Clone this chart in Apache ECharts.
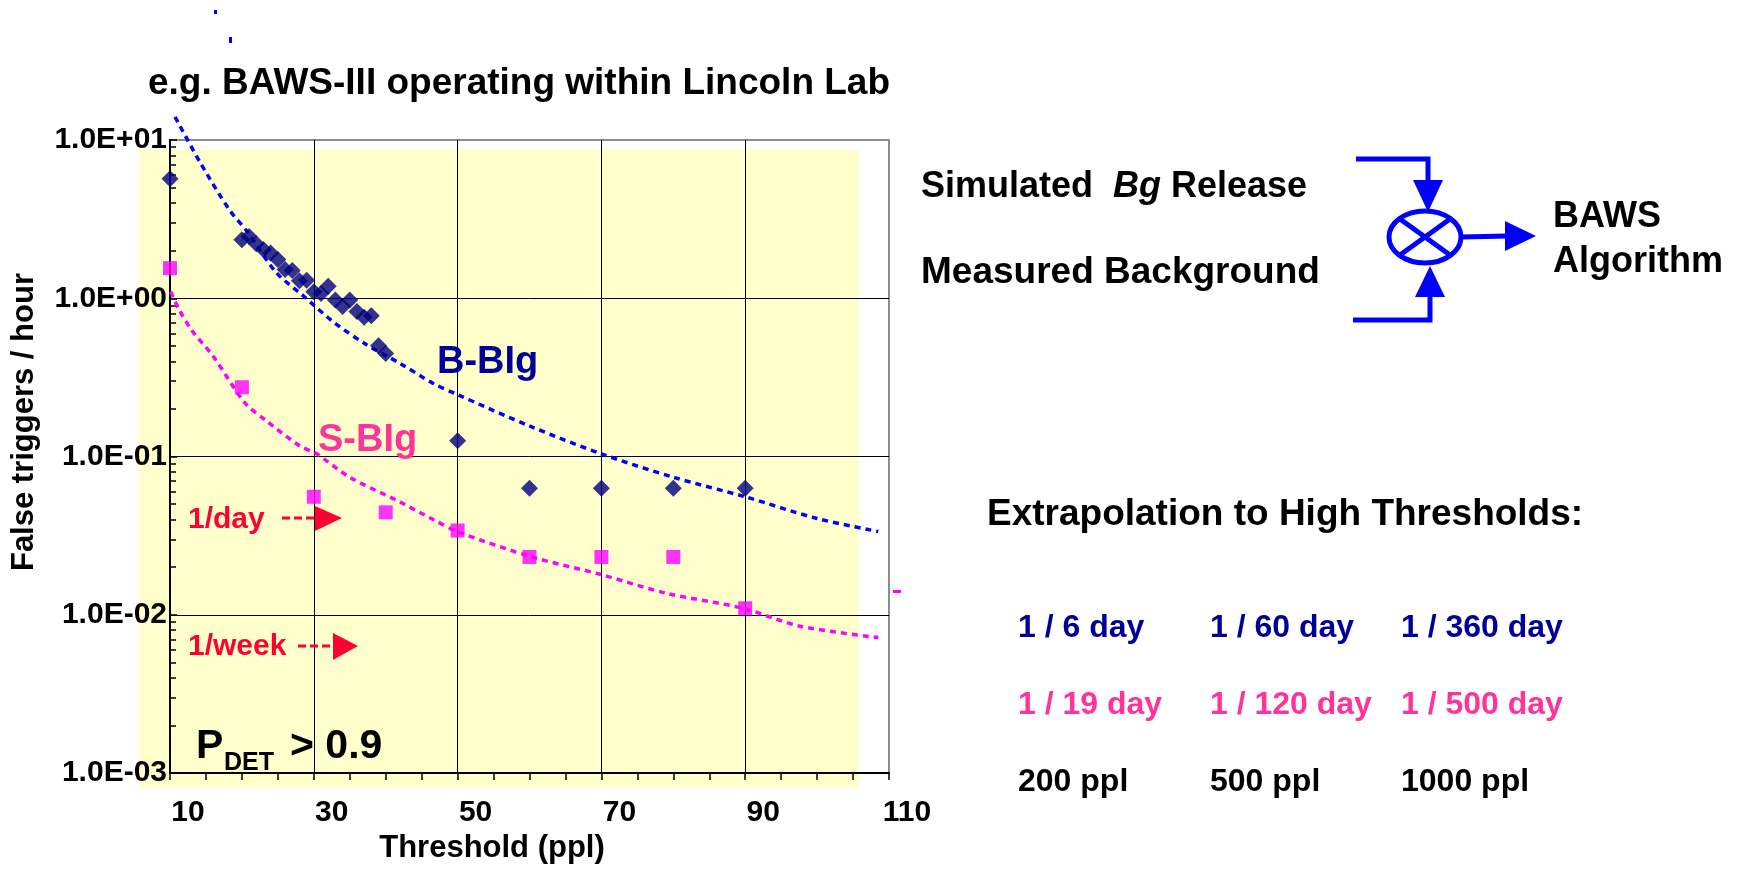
<!DOCTYPE html>
<html>
<head>
<meta charset="utf-8">
<title>BAWS-III false triggers</title>
<script src="https://cdn.jsdelivr.net/npm/echarts@6/dist/echarts.min.js"></script>
<style>
  html, body { margin: 0; padding: 0; background: #fff; }
  #chart { width: 1743px; height: 869px; }
</style>
</head>
<body>
<div id="chart"></div>
<script>
// axis tick labels
var xTickLabels = ['10', '30', '50', '70', '90', '110'];
var yTickLabels = ['1.0E-03', '1.0E-02', '1.0E-01', '1.0E+00', '1.0E+01'];

// B-BIg measured false trigger rate (navy diamonds)
var bThreshold = [10, 20, 21, 22, 23, 24, 25, 26, 27, 28, 29, 30, 31, 32, 33, 34, 35, 36, 37, 38, 39, 40, 50, 60, 70, 80, 90];
var bRate = [5.7, 2.34, 2.46, 2.21, 2.03, 1.93, 1.76, 1.52, 1.50, 1.29, 1.30, 1.10, 1.07, 1.19, 0.976, 0.886, 0.976, 0.824, 0.760, 0.775, 0.502, 0.448, 0.126, 0.063, 0.063, 0.063, 0.063];

// S-BIg measured false trigger rate (magenta squares)
var sThreshold = [10, 20, 30, 40, 50, 60, 70, 80, 90];
var sRate = [1.55, 0.274, 0.0557, 0.0444, 0.0341, 0.0232, 0.0232, 0.0232, 0.011];

// trend lines
var bFitX = [10.7, 14.2, 18.3, 20.7, 24.8, 28.5, 32.7, 37.3, 41.9, 46.6, 50, 60, 70, 80, 90, 100, 108.5];
var bFitY = [14.0, 7.2, 3.6, 2.65, 1.45, 1.04, 0.71, 0.51, 0.39, 0.29, 0.246, 0.156, 0.104, 0.074, 0.0557, 0.0406, 0.0336];
var sFitX = [10.1, 11.2, 13, 16, 20.4, 23.4, 28, 30.4, 35, 42, 46.6, 50, 60.5, 69.7, 79, 89.7, 97.5, 108.5];
var sFitY = [1.1, 0.86, 0.63, 0.43, 0.219, 0.168, 0.117, 0.104, 0.074, 0.0516, 0.04, 0.0335, 0.0231, 0.0181, 0.0137, 0.011, 0.0085, 0.00718];

var FONT = '"Liberation Sans", Arial, sans-serif';

function pairs(xs, ys) {
  return xs.map(function (x, i) { return [x, ys[i]]; });
}

// minor tick positions on the log axis (2..9 in each decade), in log10 space
var minorYTicks = [];
for (var d = -3; d < 1; d++) {
  for (var m = 2; m <= 9; m++) minorYTicks.push(d + Math.log10(m));
}

function txt(x, y, s, size, color, extra) {
  var st = {
    text: s, fill: color, fontFamily: FONT, fontSize: size, fontWeight: 'bold',
    align: 'left', verticalAlign: 'middle'
  };
  if (extra) for (var k in extra) st[k] = extra[k];
  return { type: 'text', x: x, y: y, style: st, z: 20 };
}

var chart = echarts.init(document.getElementById('chart'));

var graphics = [
  // pale yellow plot backdrop
  { type: 'rect', shape: { x: 139, y: 150, width: 720, height: 638 }, style: { fill: '#FFFFCC' }, z: -10 },

  // stray specks left over in the slide
  { type: 'rect', shape: { x: 214, y: 10, width: 3, height: 4 }, style: { fill: '#0000FF' }, z: 20 },
  { type: 'rect', shape: { x: 229, y: 37, width: 3, height: 6 }, style: { fill: '#0000FF' }, z: 20 },
  { type: 'rect', shape: { x: 893, y: 590, width: 8, height: 3 }, style: { fill: '#FF00FF' }, z: 20 },

  // title
  txt(148, 84, 'e.g. BAWS-III operating within Lincoln Lab', 37, '#000'),

  // in-plot labels
  txt(437, 363, 'B-BIg', 38, '#000099'),
  txt(318, 441, 'S-BIg', 38, '#FF3399'),
  txt(188, 520, '1/day', 30, '#FF0033'),
  { type: 'line', shape: { x1: 282, y1: 518, x2: 316, y2: 518 }, style: { stroke: '#FF0033', lineWidth: 3, lineDash: [8, 4] }, z: 20 },
  { type: 'polygon', shape: { points: [[315, 506], [315, 531], [342, 518]] }, style: { fill: '#FF0033' }, z: 20 },
  txt(188, 647, '1/week', 30, '#FF0033'),
  { type: 'line', shape: { x1: 298, y1: 646, x2: 334, y2: 646 }, style: { stroke: '#FF0033', lineWidth: 3, lineDash: [8, 4] }, z: 20 },
  { type: 'polygon', shape: { points: [[333, 633], [333, 660], [358, 646]] }, style: { fill: '#FF0033' }, z: 20 },
  txt(196, 747, 'P', 41, '#000'),
  txt(224, 763, 'DET', 25, '#000'),
  txt(290, 747, '> 0.9', 41, '#000'),

  // block diagram
  txt(921, 187, '{a|Simulated  }{i|Bg}{a| Release}', 36, '#000', {
    rich: {
      a: { fontFamily: FONT, fontSize: 36, fontWeight: 'bold', fill: '#000' },
      i: { fontFamily: FONT, fontSize: 36, fontWeight: 'bold', fontStyle: 'italic', fill: '#000' }
    }
  }),
  txt(921, 273, 'Measured Background', 37, '#000'),
  { type: 'polyline', shape: { points: [[1356, 159], [1428, 159], [1428, 184]] }, style: { stroke: '#0000FF', lineWidth: 5, fill: null }, z: 20 },
  { type: 'polygon', shape: { points: [[1413, 180], [1443, 180], [1428, 212]] }, style: { fill: '#0000FF' }, z: 20 },
  { type: 'ellipse', shape: { cx: 1425, cy: 237, rx: 36, ry: 26 }, style: { stroke: '#0000FF', lineWidth: 5, fill: null }, z: 20 },
  { type: 'line', shape: { x1: 1400, y1: 219, x2: 1450, y2: 255 }, style: { stroke: '#0000FF', lineWidth: 5 }, z: 20 },
  { type: 'line', shape: { x1: 1400, y1: 255, x2: 1450, y2: 219 }, style: { stroke: '#0000FF', lineWidth: 5 }, z: 20 },
  { type: 'polyline', shape: { points: [[1353, 320], [1430, 320], [1430, 294]] }, style: { stroke: '#0000FF', lineWidth: 5, fill: null }, z: 20 },
  { type: 'polygon', shape: { points: [[1415, 297], [1445, 297], [1430, 266]] }, style: { fill: '#0000FF' }, z: 20 },
  { type: 'line', shape: { x1: 1461, y1: 237, x2: 1508, y2: 236 }, style: { stroke: '#0000FF', lineWidth: 5 }, z: 20 },
  { type: 'polygon', shape: { points: [[1505, 221], [1505, 251], [1536, 236]] }, style: { fill: '#0000FF' }, z: 20 },
  txt(1553, 217, 'BAWS', 36, '#000'),
  txt(1553, 262, 'Algorithm', 36, '#000'),

  // extrapolation table
  txt(987, 515, 'Extrapolation to High Thresholds:', 37, '#000'),
  txt(1018, 628, '1 / 6 day', 32, '#000099'),
  txt(1210, 628, '1 / 60 day', 32, '#000099'),
  txt(1401, 628, '1 / 360 day', 32, '#000099'),
  txt(1018, 705, '1 / 19 day', 32, '#FF3399'),
  txt(1210, 705, '1 / 120 day', 32, '#FF3399'),
  txt(1401, 705, '1 / 500 day', 32, '#FF3399'),
  txt(1018, 782, '200 ppl', 32, '#000'),
  txt(1210, 782, '500 ppl', 32, '#000'),
  txt(1401, 782, '1000 ppl', 32, '#000')
];

var option = {
  animation: false,
  backgroundColor: '#fff',
  grid: {
    left: 170, top: 140, right: 854, bottom: 91,
    show: true, borderColor: '#8c8c8c', borderWidth: 2, backgroundColor: 'transparent'
  },
  xAxis: {
    type: 'value', min: 10, max: 110, interval: 20,
    name: 'Threshold (ppl)', nameLocation: 'middle', nameGap: 57,
    nameTextStyle: { fontFamily: FONT, fontSize: 31, fontWeight: 'bold', color: '#000', padding: [0, 75, 0, 0] },
    axisLine: { show: true, onZero: false, lineStyle: { color: '#000', width: 2 } },
    axisTick: { show: true, length: 7, lineStyle: { color: '#000', width: 1.5 } },
    minorTick: { show: true, splitNumber: 4, length: 7, lineStyle: { color: '#000', width: 1.5 } },
    splitLine: { show: true, showMinLine: false, showMaxLine: false, lineStyle: { color: '#000', width: 1 } },
    axisLabel: {
      margin: 25, fontFamily: FONT, fontSize: 30, fontWeight: 'bold', color: '#000',
      padding: [0, 0, 0, 36],
      formatter: function (v) { return xTickLabels[Math.round((v - 10) / 20)]; }
    }
  },
  yAxis: [{
    type: 'log', logBase: 10, min: 0.001, max: 10,
    name: 'False triggers / hour', nameLocation: 'middle', nameGap: 130, nameRotate: 90,
    nameTextStyle: { fontFamily: FONT, fontSize: 31, fontWeight: 'bold', color: '#000', padding: [0, 0, 0, 69] },
    axisLine: { show: true, lineStyle: { color: '#000', width: 2 } },
    axisTick: { show: true, inside: true, length: 7, lineStyle: { color: '#000', width: 1.5 } },
    splitLine: { show: true, showMinLine: false, showMaxLine: false, lineStyle: { color: '#000', width: 1 } },
    axisLabel: {
      margin: 3, fontFamily: FONT, fontSize: 30, fontWeight: 'bold', color: '#000',
      padding: [10, 0, 0, 0],
      formatter: function (v) { return yTickLabels[Math.round(Math.log10(v)) + 3]; }
    }
  }, {
    // only carries the 2..9 minor ticks of the log axis
    type: 'value', min: -3, max: 1, interval: 1, position: 'left',
    axisLine: { show: false },
    axisLabel: { show: false },
    splitLine: { show: false },
    axisTick: { show: true, inside: true, length: 6, customValues: minorYTicks, lineStyle: { color: '#000', width: 1.5 } }
  }],
  series: [
    {
      name: 'B-BIg trend', type: 'line', data: pairs(bFitX, bFitY),
      symbol: 'none', smooth: 0.3, clip: false, silent: true, z: 3,
      lineStyle: { color: '#0000FF', width: 3.5, type: [6, 5] }
    },
    {
      name: 'S-BIg trend', type: 'line', data: pairs(sFitX, sFitY),
      symbol: 'none', smooth: 0.3, clip: false, silent: true, z: 3,
      lineStyle: { color: '#FF00FF', width: 3.5, type: [6, 5] }
    },
    {
      name: 'B-BIg', type: 'scatter', data: pairs(bThreshold, bRate),
      symbol: 'diamond', symbolSize: 17, z: 5,
      itemStyle: { color: '#000080' }
    },
    {
      name: 'S-BIg', type: 'scatter', data: pairs(sThreshold, sRate),
      symbol: 'rect', symbolSize: 14, z: 5,
      itemStyle: { color: '#FF00FF' }
    }
  ],
  graphic: graphics
};

chart.setOption(option);
window.onresize = function () { chart.resize(); };
</script>
</body>
</html>
